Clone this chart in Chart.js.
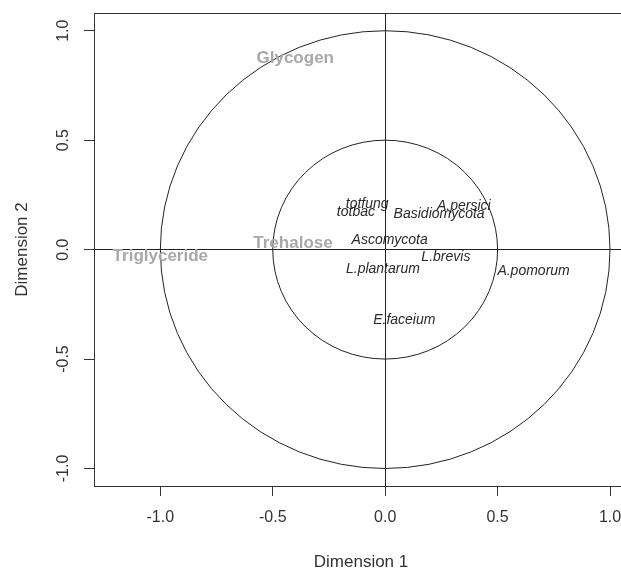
<!DOCTYPE html>
<html>
<head>
<meta charset="utf-8">
<script src="https://cdn.jsdelivr.net/npm/chart.js@4/dist/chart.umd.min.js"></script>
<style>
  html, body { margin: 0; padding: 0; background: #fff; overflow: hidden; }
  canvas { display: block; }
</style>
</head>
<body>
<canvas id="corrChart" width="640" height="571"></canvas>
<script>
/* ---------- DATA ---------- */
const varLabels = ["Glycogen", "Trehalose", "Triglyceride"];
const varX = [-0.40, -0.41, -1.00];
const varY = [0.875, 0.03, -0.03];

const speciesLabels = ["totfung", "totbac", "A.persici", "Basidiomycota", "Ascomycota",
  "L.brevis", "L.plantarum", "A.pomorum", "E.faceium"];
const speciesX = [-0.08, -0.13, 0.35, 0.24, 0.02, 0.27, -0.01, 0.66, 0.085];
const speciesY = [0.21, 0.17, 0.20, 0.16, 0.045, -0.035, -0.09, -0.10, -0.32];

const circleRadii = [1, 0.5];
const xTicks = [-1, -0.5, 0, 0.5, 1];
const yTicks = [-1, -0.5, 0, 0.5, 1];

/* ---------- PLUGINS ---------- */
const circlePlugin = {
  id: "circles",
  beforeDatasetsDraw(chart) {
    const { ctx, chartArea, scales: { x, y } } = chart;
    const cx = x.getPixelForValue(0);
    const cy = y.getPixelForValue(0);
    ctx.save();
    ctx.strokeStyle = "#222";
    ctx.lineWidth = 1;
    circleRadii.forEach(r => {
      const rx = x.getPixelForValue(r) - cx;
      const ry = cy - y.getPixelForValue(r);
      ctx.beginPath();
      ctx.ellipse(cx, cy, rx, ry, 0, 0, Math.PI * 2);
      ctx.stroke();
    });
    // plot box
    ctx.strokeStyle = "#333";
    ctx.strokeRect(Math.round(chartArea.left) + 0.5, Math.round(chartArea.top) + 0.5,
      Math.round(chartArea.width), Math.round(chartArea.height));
    ctx.restore();
  }
};

const textPlugin = {
  id: "pointText",
  afterDatasetsDraw(chart) {
    const ctx = chart.ctx;
    chart.data.datasets.forEach((ds, i) => {
      const meta = chart.getDatasetMeta(i);
      ctx.save();
      ctx.font = ds.labelFont;
      ctx.fillStyle = ds.labelColor;
      ctx.textAlign = "center";
      ctx.textBaseline = "middle";
      meta.data.forEach((pt, j) => {
        ctx.fillText(ds.names[j], pt.x, pt.y);
      });
      ctx.restore();
    });
  }
};

/* ---------- CHART ---------- */
const fmt = v => Number(v).toFixed(1);
const zeroLine = c => (c.tick && c.tick.value === 0 ? "#222" : "rgba(0,0,0,0)");

new Chart(document.getElementById("corrChart").getContext("2d"), {
  type: "scatter",
  data: {
    datasets: [
      {
        names: speciesLabels,
        data: speciesX.map((v, i) => ({ x: v, y: speciesY[i] })),
        pointRadius: 0,
        labelFont: 'italic 14px "Liberation Sans", Arial, sans-serif',
        labelColor: "#2a2a2a"
      },
      {
        names: varLabels,
        data: varX.map((v, i) => ({ x: v, y: varY[i] })),
        pointRadius: 0,
        labelFont: 'bold 17px "Liberation Sans", Arial, sans-serif',
        labelColor: "#a8a8a8"
      }
    ]
  },
  options: {
    responsive: false,
    animation: false,
    layout: { padding: { top: 13, right: 12, bottom: 0, left: 0 } },
    plugins: { legend: { display: false }, tooltip: { enabled: false } },
    scales: {
      x: {
        type: "linear",
        min: -1.295,
        max: 1.08,
        afterBuildTicks: s => { s.ticks = xTicks.map(v => ({ value: v })); },
        afterFit: s => { s.height = 85; },
        border: { display: false },
        grid: { color: zeroLine, tickColor: "#333", tickLength: 10, lineWidth: 1 },
        ticks: {
          callback: fmt,
          color: "#333",
          padding: 12,
          maxRotation: 0,
          font: { family: '"Liberation Sans", Arial, sans-serif', size: 16 }
        },
        title: {
          display: true,
          text: "Dimension 1",
          color: "#333",
          padding: { top: 0, bottom: 0 },
          font: { family: '"Liberation Sans", Arial, sans-serif', size: 17, lineHeight: 1 }
        }
      },
      y: {
        type: "linear",
        min: -1.08,
        max: 1.081,
        afterBuildTicks: s => { s.ticks = yTicks.map(v => ({ value: v })); },
        afterFit: s => { s.width = 94; },
        border: { display: false },
        grid: { color: zeroLine, tickColor: "#333", tickLength: 10, lineWidth: 1 },
        ticks: {
          callback: fmt,
          color: "#333",
          padding: 7,
          minRotation: 90,
          maxRotation: 90,
          crossAlign: "center",
          font: { family: '"Liberation Sans", Arial, sans-serif', size: 16, lineHeight: 0.75 }
        },
        title: {
          display: true,
          text: "Dimension 2",
          color: "#333",
          padding: { top: 12, bottom: 0 },
          font: { family: '"Liberation Sans", Arial, sans-serif', size: 17 }
        }
      }
    }
  },
  plugins: [circlePlugin, textPlugin]
});
</script>
</body>
</html>
